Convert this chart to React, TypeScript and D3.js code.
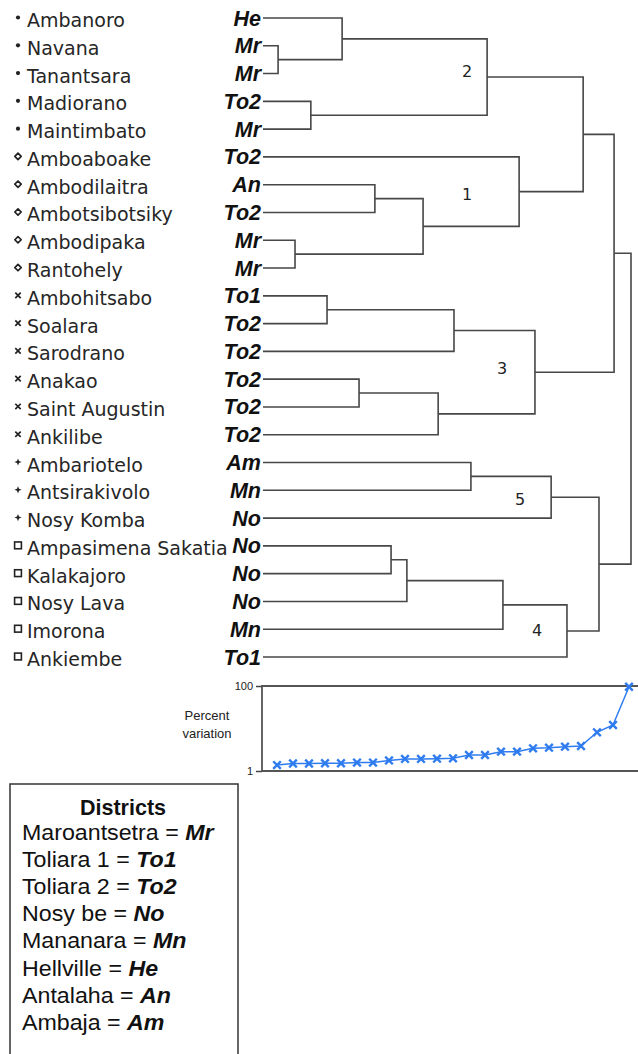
import React, { useEffect, useRef } from "react";
import * as d3 from "d3";

// sites in dendrogram order, top to bottom
const sites = [
  "Ambanoro", "Navana", "Tanantsara", "Madiorano", "Maintimbato",
  "Amboaboake", "Ambodilaitra", "Ambotsibotsiky", "Ambodipaka", "Rantohely",
  "Ambohitsabo", "Soalara", "Sarodrano", "Anakao", "Saint Augustin", "Ankilibe",
  "Ambariotelo", "Antsirakivolo", "Nosy Komba",
  "Ampasimena Sakatia", "Kalakajoro", "Nosy Lava", "Imorona", "Ankiembe",
];
const siteDistricts = [
  "He", "Mr", "Mr", "To2", "Mr",
  "To2", "An", "To2", "Mr", "Mr",
  "To1", "To2", "To2", "To2", "To2", "To2",
  "Am", "Mn", "No",
  "No", "No", "No", "Mn", "To1",
];
const siteMarkers = [
  "dot", "dot", "dot", "dot", "dot",
  "diamond", "diamond", "diamond", "diamond", "diamond",
  "x", "x", "x", "x", "x", "x",
  "plus", "plus", "plus",
  "square", "square", "square", "square", "square",
];

// linkage: [childA, childB, height]; nodes 0..23 are leaves, merges numbered from 24
const merges: [number, number, number][] = [
  [1, 2, 4.1],      // 24
  [3, 4, 13.0],     // 25
  [0, 24, 21.5],    // 26
  [26, 25, 60.9],   // 27 cluster 2
  [6, 7, 30.4],     // 28
  [8, 9, 8.7],      // 29
  [28, 29, 43.5],   // 30
  [5, 30, 69.6],    // 31 cluster 1
  [27, 31, 87.0],   // 32
  [10, 11, 17.4],   // 33
  [33, 12, 51.9],   // 34
  [13, 14, 26.1],   // 35
  [35, 15, 47.6],   // 36
  [34, 36, 73.9],   // 37 cluster 3
  [32, 37, 95.4],   // 38
  [16, 17, 56.5],   // 39
  [39, 18, 78.3],   // 40 cluster 5
  [19, 20, 34.8],   // 41
  [41, 21, 39.1],   // 42
  [42, 22, 65.2],   // 43
  [43, 23, 82.6],   // 44 cluster 4
  [40, 44, 91.3],   // 45
  [38, 45, 100],    // 46 root
];

const clusterNames = ["2", "1", "3", "5", "4"];

// percent variation per merge step (log scale)
const variation = [
  1.38, 1.5, 1.5, 1.52, 1.52, 1.58, 1.58, 1.77, 1.92, 1.92, 1.95, 1.99,
  2.38, 2.38, 2.85, 2.85, 3.42, 3.53, 3.73, 3.87, 8.14, 12.1, 96,
];

const legendNames = [
  "Maroantsetra", "Toliara 1", "Toliara 2", "Nosy be",
  "Mananara", "Hellville", "Antalaha", "Ambaja",
];
const legendCodes = ["Mr", "To1", "To2", "No", "Mn", "He", "An", "Am"];

const W = 638;
const H = 1054;
const LINE = "#474747";
const BLUE = "#2f7cf0";
const NAME_FONT = "'DejaVu Sans', Verdana, sans-serif";
const ARIAL = "'Liberation Sans', Arial, sans-serif";

// hand placed annotation spots for the cluster numbers
const clusterLabelPos = [
  [467, 71],
  [467, 194],
  [502, 368],
  [520, 499],
  [537, 630],
];

const App = () => {
  const ref = useRef(null);

  useEffect(() => {
    const svg = d3.select(ref.current);
    svg.selectAll("*").remove();

    const yLeaf = d3.scaleLinear().domain([0, sites.length - 1]).range([18, 657]);
    const xH = d3.scaleLinear().domain([0, 100]).range([263, 631]);

    // node positions
    const pos: { x: number; y: number }[] = sites.map((_, i) => ({
      x: xH(0),
      y: yLeaf(i),
    }));
    merges.forEach(([a, b, h]) => {
      pos.push({ x: xH(h), y: (pos[a].y + pos[b].y) / 2 });
    });

    const tree = svg.append("g");
    tree
      .selectAll("path")
      .data(merges)
      .join("path")
      .attr("d", ([a, b, h]) => {
        const x = xH(h);
        return `M${pos[a].x},${pos[a].y}H${x}V${pos[b].y}H${pos[b].x}`;
      })
      .attr("fill", "none")
      .attr("stroke", LINE)
      .attr("stroke-width", 1.6);

    // site labels
    const leaves = svg.append("g");
    leaves
      .selectAll("text.site")
      .data(sites)
      .join("text")
      .attr("class", "site")
      .attr("x", 27)
      .attr("y", (_, i) => yLeaf(i) + 9)
      .attr("font-family", NAME_FONT)
      .attr("font-size", 19)
      .attr("fill", "#262626")
      .text((d) => d);

    leaves
      .selectAll("text.code")
      .data(siteDistricts)
      .join("text")
      .attr("class", "code")
      .attr("x", 261)
      .attr("y", (_, i) => yLeaf(i) + 7.5)
      .attr("text-anchor", "end")
      .attr("font-family", ARIAL)
      .attr("font-size", 21.5)
      .attr("font-weight", "bold")
      .attr("font-style", "italic")
      .attr("fill", "#111")
      .text((d) => d);

    // group markers
    const mk = leaves
      .selectAll("g.mk")
      .data(siteMarkers)
      .join("g")
      .attr("class", "mk")
      .attr("transform", (_, i) => `translate(18,${yLeaf(i) - 0.5})`);
    mk.each(function (m) {
      const g = d3.select(this);
      if (m === "dot") {
        g.append("circle").attr("r", 2.1).attr("fill", "#222");
      } else if (m === "diamond") {
        g.append("path")
          .attr("d", "M0,-3.2L3.2,0L0,3.2L-3.2,0Z")
          .attr("fill", "none")
          .attr("stroke", "#222")
          .attr("stroke-width", 1.7)
          .attr("stroke-linejoin", "round");
      } else if (m === "x") {
        g.append("path")
          .attr("d", "M-2.7,-2.7L2.7,2.7M-2.7,2.7L2.7,-2.7")
          .attr("stroke", "#222")
          .attr("stroke-width", 1.7);
      } else if (m === "plus") {
        g.append("path")
          .attr("d", "M0,-3.6L1,-1L3.6,0L1,1L0,3.6L-1,1L-3.6,0L-1,-1Z")
          .attr("fill", "#222");
      } else {
        g.append("rect")
          .attr("x", -3.4)
          .attr("y", -3.4)
          .attr("width", 6.8)
          .attr("height", 6.8)
          .attr("fill", "none")
          .attr("stroke", "#222")
          .attr("stroke-width", 1.6);
      }
    });

    // cluster numbers
    svg
      .append("g")
      .selectAll("text")
      .data(clusterNames)
      .join("text")
      .attr("x", (_, i) => clusterLabelPos[i][0])
      .attr("y", (_, i) => clusterLabelPos[i][1] + 6)
      .attr("text-anchor", "middle")
      .attr("font-family", NAME_FONT)
      .attr("font-size", 16)
      .attr("fill", "#222")
      .text((d) => d);

    // percent variation chart
    const xV = d3.scaleLinear().domain([0, variation.length - 1]).range([277, 629]);
    const yV = d3.scaleLog().domain([1, 100]).range([771, 686]);
    const pv = svg.append("g");

    pv.append("path")
      .attr("d", `M${W},${yV(100)}H262V${yV(1)}H${W}`)
      .attr("fill", "none")
      .attr("stroke", "#555")
      .attr("stroke-width", 1.8);

    const axis = pv
      .append("g")
      .attr("transform", "translate(262,0)")
      .call(
        d3.axisLeft(yV).tickValues([1, 100]).tickFormat(d3.format("d")).tickSize(6)
      );
    axis.select(".domain").remove();
    axis.selectAll("line").attr("stroke", "#444").attr("stroke-width", 1.5);
    axis
      .selectAll("text")
      .attr("font-family", ARIAL)
      .attr("font-size", 11)
      .attr("fill", "#222");

    pv.append("text")
      .attr("x", 207)
      .attr("y", 720)
      .attr("text-anchor", "middle")
      .attr("font-family", ARIAL)
      .attr("font-size", 13)
      .attr("fill", "#222")
      .selectAll("tspan")
      .data(["Percent", "variation"])
      .join("tspan")
      .attr("x", 207)
      .attr("dy", (_, i) => (i === 0 ? 0 : 18))
      .text((d) => d);

    pv.append("path")
      .datum(variation)
      .attr(
        "d",
        d3
          .line<number>()
          .x((_, i) => xV(i))
          .y((d) => yV(d))
      )
      .attr("fill", "none")
      .attr("stroke", BLUE)
      .attr("stroke-width", 1.5);

    pv.selectAll("path.pt")
      .data(variation)
      .join("path")
      .attr("class", "pt")
      .attr("transform", (d, i) => `translate(${xV(i)},${yV(d)})`)
      .attr("d", "M-3.8,-3.8L3.8,3.8M-3.8,3.8L3.8,-3.8")
      .attr("stroke", BLUE)
      .attr("stroke-width", 2.4);

    // districts legend
    const lg = svg.append("g");
    lg.append("rect")
      .attr("x", 10)
      .attr("y", 784)
      .attr("width", 228)
      .attr("height", 300)
      .attr("fill", "none")
      .attr("stroke", "#333")
      .attr("stroke-width", 1.5);
    lg.append("text")
      .attr("x", 123)
      .attr("y", 815)
      .attr("text-anchor", "middle")
      .attr("font-family", ARIAL)
      .attr("font-size", 21.5)
      .attr("font-weight", "bold")
      .attr("fill", "#111")
      .text("Districts");
    const rows = lg
      .selectAll("text.row")
      .data(legendNames)
      .join("text")
      .attr("class", "row")
      .attr("transform", (_, i) => `translate(22,${840 + i * 27.1}) scale(1.08,1)`)
      .attr("font-family", ARIAL)
      .attr("font-size", 21.5)
      .attr("fill", "#111");
    rows.append("tspan").text((d) => `${d} = `);
    rows
      .append("tspan")
      .attr("font-weight", "bold")
      .attr("font-style", "italic")
      .text((_, i) => legendCodes[i]);
  }, []);

  return (
    <svg
      ref={ref}
      width={W}
      height={H}
      style={{ position: "absolute", left: 0, top: 0, display: "block", background: "#fff" }}
    />
  );
};

export default App;
